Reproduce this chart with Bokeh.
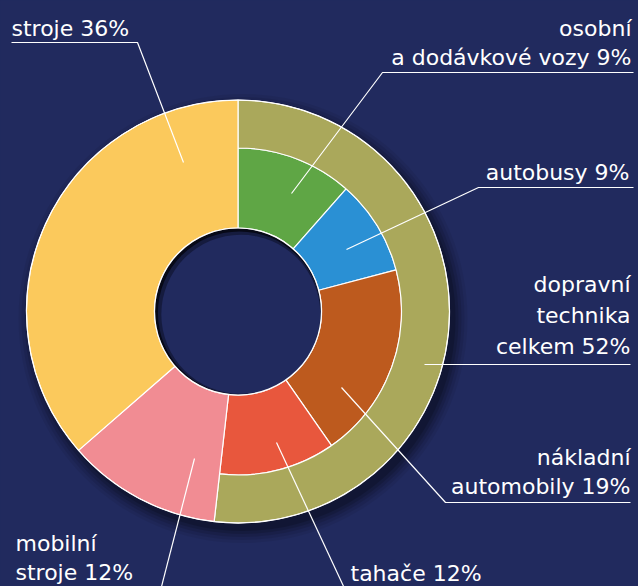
import numpy as np
from bokeh.plotting import figure
from bokeh.models import Range1d, ColumnDataSource
from bokeh.core.properties import value
from bokeh.embed import file_html
from bokeh.resources import INLINE

# ---------------- data ----------------
# inner ring: parts of "dopravní technika" (share of the full circle as drawn)
inner_names = [["osobní", "a dodávkové vozy"], ["autobusy"], ["nákladní", "automobily"], ["tahače"]]
inner_values = [11.5, 9.4, 19.4, 11.5]
inner_pct = ["9%", "9%", "19%", "12%"]
inner_colors = ["#5fa645", "#2a90d4", "#bd5a1e", "#e8573d"]

# outer ring group
group_name = ["dopravní", "technika", "celkem"]
group_value = 51.8
group_pct = "52%"
group_color = "#aaa85b"

# full-width segments
other_names = [["mobilní", "stroje"], ["stroje"]]
other_values = [11.8, 36.4]
other_pct = ["12%", "36%"]
other_colors = ["#f18c93", "#fbc95c"]

BG = "#212a5e"

# ---------------- layout ----------------
W, H = 638, 586
CX, CY = 237.5, -311.0
R_HOLE, R_MID, R_OUT = 83.5, 163.5, 211.5
TEXT_DY = 6.5   # compensates the renderer's baseline offset


def ang(pct):
    """percent of circle, clockwise from 12 o'clock -> bokeh angle (rad)"""
    return np.deg2rad(90.0 - np.asarray(pct) * 3.6)


p = figure(width=W, height=H, x_range=Range1d(0, W), y_range=Range1d(-H, 0),
           output_backend="svg", toolbar_location=None, min_border=0,
           x_axis_location=None, y_axis_location=None,
           background_fill_color=BG, border_fill_color=BG, outline_line_color=None)
p.grid.visible = False

# drop shadow of the donut
for dr, a in [(13, 0.06), (10, 0.08), (7, 0.10), (4, 0.13), (1, 0.16)]:
    p.circle(x=[CX + 5], y=[CY - 7], radius=R_OUT + dr, fill_color="black",
             fill_alpha=a, line_color=None)

# inner ring wedges
edges = np.concatenate([[0.0], np.cumsum(inner_values)])
src_in = ColumnDataSource(dict(start=ang(edges[1:]), end=ang(edges[:-1]), color=inner_colors))
p.annular_wedge(x=CX, y=CY, inner_radius=R_HOLE, outer_radius=R_MID,
                start_angle="start", end_angle="end", fill_color="color",
                line_color="white", line_width=1.2, source=src_in)

# outer ring (group)
p.annular_wedge(x=CX, y=CY, inner_radius=R_MID, outer_radius=R_OUT,
                start_angle=float(ang(group_value)), end_angle=float(ang(0.0)),
                fill_color=group_color, line_color="white", line_width=1.2)

# full-width segments
o_edges = group_value + np.concatenate([[0.0], np.cumsum(other_values)])
src_o = ColumnDataSource(dict(start=ang(o_edges[1:]), end=ang(o_edges[:-1]), color=other_colors))
p.annular_wedge(x=CX, y=CY, inner_radius=R_HOLE, outer_radius=R_OUT,
                start_angle="start", end_angle="end", fill_color="color",
                line_color="white", line_width=1.2, source=src_o)

# inner shadow of the hole
p.circle(x=[CX], y=[CY], radius=R_HOLE, fill_color="black", fill_alpha=0.55, line_color=None)
p.circle(x=[CX + 1.4], y=[CY - 1.4], radius=R_HOLE - 2.0, fill_color=BG, fill_alpha=0.55, line_color=None)
p.circle(x=[CX + 2.8], y=[CY - 2.8], radius=R_HOLE - 4.0, fill_color=BG, line_color=None)
p.circle(x=[CX], y=[CY], radius=R_HOLE, fill_color=None, line_color="white", line_width=1.2)
p.circle(x=[CX], y=[CY], radius=R_OUT, fill_color=None, line_color="white", line_width=1.0)

# ---------------- labels and leader lines ----------------
# (lines, pct, anchor x, first baseline (image px), line gap, align, leader polyline in image px)
labels = [
    (other_names[1], other_pct[1], 11, 34, 29, "left", [(11, 42), (137, 42), (183, 162)]),
    (inner_names[0], inner_pct[0], 631, 34, 29, "right", [(633, 72), (382, 72), (291, 193)]),
    (inner_names[1], inner_pct[1], 629, 178, 29, "right", [(633, 187), (478, 187), (346, 249)]),
    (group_name, group_pct, 630, 290, 31, "right", [(630, 364), (424, 364)]),
    (inner_names[2], inner_pct[2], 630, 463, 29, "right", [(630, 502), (445, 502), (341, 387)]),
    (inner_names[3], inner_pct[3], 350, 579, 29, "left", [(276, 442), (345, 590)]),
    (other_names[0], other_pct[0], 15, 549, 29, "left", [(194, 458), (160, 590)]),
]

for lines, pct, ax, by, gap, align, leader in labels:
    txt = list(lines[:-1]) + [lines[-1] + " " + pct]
    xs = [ax] * len(txt)
    ys = [-(by + i * gap) + TEXT_DY for i in range(len(txt))]
    p.text(x=xs, y=ys, text=txt, text_align=align, text_baseline="alphabetic",
           text_color="white", text_font=value("DejaVu Sans"),
           text_font_size=value("22px"))
    p.line(x=[pt[0] for pt in leader], y=[-pt[1] for pt in leader],
           line_color="white", line_width=1.2)

template = "{% block preamble %}<style>html, body { background: " + BG + "; }</style>{% endblock %}"
html = file_html(p, INLINE, title="Chart", template=template)
open("out.html", "w").write(html)
